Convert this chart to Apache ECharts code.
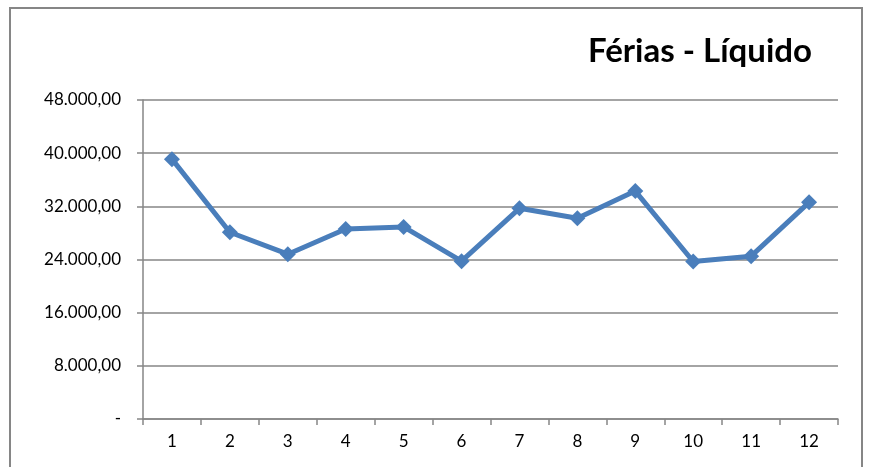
<!DOCTYPE html>
<html>
<head>
<meta charset="utf-8">
<script src="https://cdn.jsdelivr.net/npm/echarts@6/dist/echarts.min.js"></script>
<style>
  html, body { margin: 0; padding: 0; background: #fff; }
  #main { width: 874px; height: 467px; }
</style>
</head>
<body>
<div id="main"></div>
<script>
var months = ['1', '2', '3', '4', '5', '6', '7', '8', '9', '10', '11', '12'];
var liquido = [39100, 28100, 24800, 28600, 28900, 23750, 31700, 30200, 34300, 23700, 24500, 32600];
var yTicks = [0, 8000, 16000, 24000, 32000, 40000, 48000];

function fmtBR(v) {
    if (v === 0) return '-';
    var s = Math.round(v).toString();
    s = s.replace(/\B(?=(\d{3})+(?!\d))/g, '.');
    return s + ',00';
}

var myChart = echarts.init(document.getElementById('main'));
var gray = '#868686';

var option = {
    animation: false,
    backgroundColor: '#fff',
    title: {
        text: 'Férias - Líquido',
        right: 57,
        top: 30,
        textStyle: {
            fontFamily: 'Lato',
            fontWeight: 'bold',
            fontSize: 33,
            color: '#000'
        }
    },
    graphic: [{
        type: 'rect',
        shape: { x: 10, y: 8, width: 852, height: 470 },
        style: { fill: 'none', stroke: gray, lineWidth: 2 },
        silent: true
    }],
    grid: {
        left: 143,
        right: 36,
        top: 100,
        bottom: 48
    },
    xAxis: {
        type: 'category',
        data: months,
        boundaryGap: true,
        axisLine: { lineStyle: { color: gray, width: 1.5 } },
        axisTick: { show: true, length: 6, lineStyle: { color: gray, width: 1.5 } },
        axisLabel: {
            color: '#000',
            fontFamily: 'Lato',
            fontSize: 17,
            margin: 14
        }
    },
    yAxis: {
        type: 'value',
        min: 0,
        max: 48000,
        interval: 8000,
        axisLine: { show: true, lineStyle: { color: gray, width: 1.5 } },
        axisTick: { show: true, length: 6, lineStyle: { color: gray, width: 1.5 } },
        splitLine: { lineStyle: { color: gray, width: 1.5 } },
        axisLabel: {
            color: '#000',
            fontFamily: 'Lato',
            fontSize: 17,
            margin: 22,
            formatter: function (v) {
                return yTicks.indexOf(v) >= 0 ? fmtBR(v) : '';
            }
        }
    },
    series: [{
        name: 'Líquido',
        type: 'line',
        data: liquido,
        symbol: 'diamond',
        symbolSize: 16,
        lineStyle: { color: '#4A7EBB', width: 5 },
        itemStyle: { color: '#4A7EBB' }
    }]
};

myChart.setOption(option);
</script>
</body>
</html>
